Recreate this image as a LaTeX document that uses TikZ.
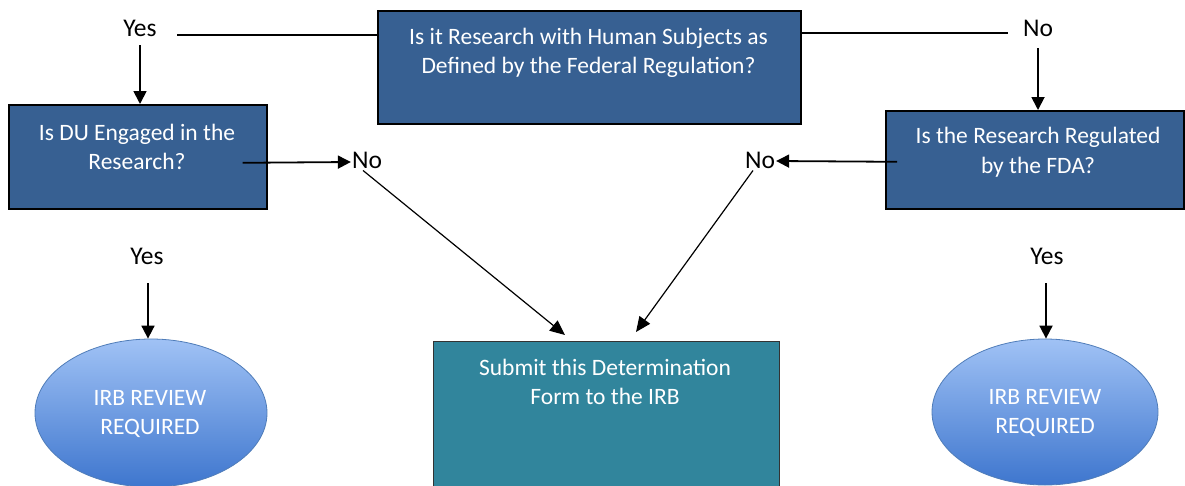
\documentclass[tikz,border=0pt]{standalone}
\usepackage{fontspec}
\setmainfont{Carlito}
\usetikzlibrary{arrows.meta,calc,shapes.geometric}
\definecolor{boxblue}{RGB}{55,96,146}
\definecolor{teal}{RGB}{49,133,156}
\definecolor{elltop}{RGB}{160,194,245}
\definecolor{ellbot}{RGB}{62,118,206}
\definecolor{ellline}{RGB}{80,125,185}
\tikzset{
  qbox/.style={draw=black,line width=1.6pt,fill=boxblue,rectangle,inner sep=0pt,anchor=north west},
  endbox/.style={draw=black!80,line width=0.8pt,fill=teal,rectangle,inner sep=0pt,anchor=north west},
  btext/.style={text=white,align=center,font=\fontsize{23.5}{29.5}\selectfont,inner sep=0pt},
  lab/.style={text=black,font=\fontsize{25.5}{30}\selectfont,inner sep=1pt},
  irb/.style={ellipse,draw=ellline,line width=0.8pt,top color=elltop,bottom color=ellbot,inner sep=0pt},
  arr/.style={line width=1.8pt,-{Triangle[length=13pt,width=13pt]}},
  dline/.style={line width=1.2pt,-{Triangle[length=15pt,width=13pt]}},
  plain/.style={line width=2pt}
}
\begin{document}
\begin{tikzpicture}[x=1pt,y=-1pt]
\useasboundingbox (0,0) rectangle (1185,485);
\fill[white] (0,0) rectangle (1185,485);
% boxes
\node[qbox,minimum width=423pt,minimum height=113pt] (q1) at (377,10) {};
\node[btext] (q1t) at (588.5,53) {Is it Research with Human Subjects as\\Defined by the Federal Regulation?};
\node[qbox,minimum width=258pt,minimum height=104pt] (q2) at (8,104) {};
\node[btext] (q2t) at (137,147) {Is DU Engaged in the\\Research?};
\node[qbox,minimum width=298pt,minimum height=98pt] (q3) at (885,110) {};
\node[btext] (q3t) at (1038,152) {Is the Research Regulated\\by the FDA?};
\node[endbox,minimum width=346pt,minimum height=160pt] (sub) at (433,341) {};
\node[btext] (subt) at (605,382) {Submit this Determination\\Form to the IRB};
% ellipses
\node[irb,minimum width=232pt,minimum height=148pt] (irb1) at (151,413) {};
\node[btext] (irb1t) at (150,414) {IRB REVIEW\\REQUIRED};
\node[irb,minimum width=226pt,minimum height=146pt] (irb2) at (1045,412) {};
\node[btext] (irb2t) at (1045,413) {IRB REVIEW\\REQUIRED};
% labels
\node[lab] (yes1) at (140,28) {Yes};
\node[lab] (no1) at (1038,28) {No};
\node[lab] (no2) at (367,160) {No};
\node[lab] (no3) at (760,160) {No};
\node[lab] (yes2) at (147,256) {Yes};
\node[lab] (yes3) at (1047,256) {Yes};
% connectors
\draw[plain] (177,35) coordinate (l1) -- (l1 -| q1.west);
\draw[plain] (q1.east |- 0,33) -- (1008,33) coordinate (r1);
\draw[arr] (140,45) -- (q2.north -| 140,0);
\draw[arr] (1038,48) -- (q3.north -| 1038,0);
\draw[arr] ($(q2.east)+(-25,6)$) -- (no2.west |- 0,162);
\draw[arr] ($(q3.west)+(12,2)$) -- (no3.east |- 0,161);
\draw[dline] ($(no2.south)+(-4,1)$) -- (565,335);
\draw[dline] ($(no3.south)+(-7,1)$) -- (636,332);
\draw[arr] (148,283) -- (irb1.north -| 148,0);
\draw[arr] (1046,283) -- (irb2.north -| 1046,0);
\end{tikzpicture}
\end{document}
